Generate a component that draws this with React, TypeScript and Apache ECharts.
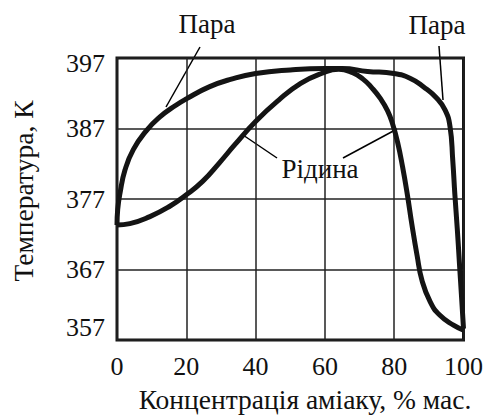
import React, { useEffect, useRef } from "react";
import * as echarts from "echarts";

const xTicks = [0, 20, 40, 60, 80, 100];
const yTicks = [357, 367, 377, 387, 397];

// Vapour ("Пара") curve
const vapourConc = [0, 0.2, 0.86, 2.3, 4.7, 8.5, 12.3, 17, 20, 26.6, 33, 40, 50, 60, 65, 72.3, 79.9, 84.7, 88.5, 92.3, 94.7, 96.1, 96.9, 97.5, 98.2, 98.8, 99.4, 100];
const vapourTemp = [373.3, 375.5, 377.8, 381.1, 384.0, 386.7, 388.6, 390.3, 391.2, 392.9, 394.0, 394.8, 395.3, 395.5, 395.5, 395.1, 394.8, 394.1, 392.9, 391.3, 389.6, 387.3, 382.5, 377.7, 372.8, 368.1, 363.4, 358.6];

// Liquid ("Рідина") curve
const liquidConc = [0, 3.7, 9.5, 15, 20, 24.7, 29.5, 34, 40, 46.6, 53, 59, 64, 68, 71, 73.5, 76.1, 78.1, 79.5, 81, 82.4, 83.8, 85.1, 86.6, 88, 90.4, 93.2, 97.1, 100];
const liquidTemp = [373.3, 373.5, 374.5, 375.9, 377.6, 379.5, 382.1, 384.7, 388.0, 391.0, 393.4, 394.8, 395.4, 394.9, 394.0, 392.8, 391.2, 389.5, 387.7, 385.0, 381.6, 377.6, 373.4, 369.0, 365.5, 362.4, 360.5, 359.1, 358.4];

const xTitle = "Концентрація аміаку, % мас.";
const yTitle = "Температура, К";
const vapourLabel = "Пара";
const liquidLabel = "Рідина";

const FONT = "Liberation Serif";

export default function App() {
  const ref = useRef<HTMLDivElement>(null);
  useEffect(() => {
    if (!ref.current) return;
    const chart = echarts.init(ref.current, undefined, { renderer: "svg" });
    const pair = (xs: number[], ys: number[]) => xs.map((x, i) => [x, ys[i]]);
    const lineStyle = { stroke: "#000", lineWidth: 1.5 };
    const textEl = (text: string, x: number, y: number, size: number, rotation = 0) => ({
      type: "text",
      x,
      y,
      rotation,
      style: { text, fontFamily: FONT, fontSize: size, fill: "#111", align: "center", verticalAlign: "middle" },
    });
    const labelFont = { fontFamily: FONT, fontSize: 26, color: "#111" };
    chart.setOption({
      animation: false,
      backgroundColor: "#fff",
      grid: { left: 117, top: 58, width: 350, height: 282, show: true, borderColor: "#151515", borderWidth: 3, backgroundColor: "transparent" },
      xAxis: {
        type: "value",
        min: xTicks[0],
        max: xTicks[xTicks.length - 1],
        interval: 20,
        axisLine: { show: false },
        axisTick: { show: false },
        axisLabel: { ...labelFont, margin: 13 },
        splitLine: { show: true, lineStyle: { color: "#222", width: 1.5 } },
      },
      yAxis: {
        type: "value",
        min: yTicks[0],
        max: yTicks[yTicks.length - 1],
        interval: 10,
        axisLine: { show: false },
        axisTick: { show: false },
        axisLabel: {
          ...labelFont,
          margin: 12,
          formatter: (v: number) => (v === yTicks[0] ? `{low|${v}}` : v === yTicks[yTicks.length - 1] ? `{high|${v}}` : `{n|${v}}`),
          rich: {
            low: { ...labelFont, padding: [0, 0, 26, 0] },
            high: { ...labelFont, padding: [10, 0, 0, 0] },
            n: { ...labelFont },
          },
        },
        splitLine: { show: true, lineStyle: { color: "#222", width: 1.5 } },
      },
      series: [
        {
          type: "line",
          data: pair(vapourConc, vapourTemp),
          smooth: 0.5,
          symbol: "none",
          lineStyle: { color: "#141414", width: 5 },
        },
        {
          type: "line",
          data: pair(liquidConc, liquidTemp),
          smooth: 0.5,
          symbol: "none",
          lineStyle: { color: "#141414", width: 5 },
        },
      ],
      graphic: [
        textEl(vapourLabel, 207, 24, 27),
        textEl(vapourLabel, 437, 25, 27),
        textEl(liquidLabel, 320, 169, 27),
        { type: "line", shape: { x1: 200, y1: 47, x2: 166, y2: 107 }, style: lineStyle },
        { type: "line", shape: { x1: 439, y1: 46, x2: 443, y2: 100 }, style: lineStyle },
        { type: "line", shape: { x1: 277, y1: 158, x2: 243, y2: 135 }, style: lineStyle },
        { type: "line", shape: { x1: 343, y1: 158, x2: 397, y2: 129 }, style: lineStyle },
        textEl(xTitle, 305, 399, 27.5),
        textEl(yTitle, 23, 191, 27.5, Math.PI / 2),
      ],
    });
    return () => chart.dispose();
  }, []);
  return <div ref={ref} style={{ position: "absolute", left: 0, top: 0, width: 486, height: 416 }} />;
}
